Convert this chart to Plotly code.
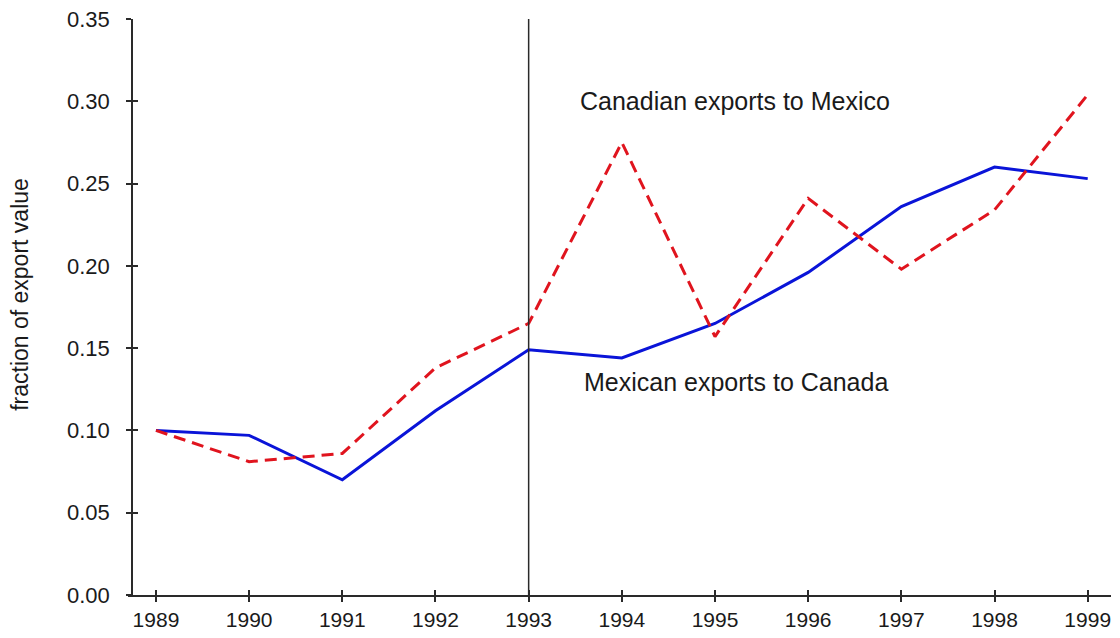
import plotly.graph_objects as go

years = [1989, 1990, 1991, 1992, 1993, 1994, 1995, 1996, 1997, 1998, 1999]
mex_to_can = [0.100, 0.097, 0.070, 0.112, 0.149, 0.144, 0.165, 0.196, 0.236, 0.260, 0.253]
can_to_mex = [0.100, 0.081, 0.086, 0.138, 0.165, 0.275, 0.157, 0.241, 0.198, 0.234, 0.304]
y_ticks = [0.00, 0.05, 0.10, 0.15, 0.20, 0.25, 0.30, 0.35]
y_tick_text = ["0.00", "0.05", "0.10", "0.15", "0.20", "0.25", "0.30", "0.35"]
nafta_year = 1993
label_can = "Canadian exports to Mexico"
label_mex = "Mexican exports to Canada"
y_title = "fraction of export value"

FONT = "Liberation Sans, Arial, Helvetica, sans-serif"
AX = "#2a2a2a"
TXT = "#1a1a1a"
XR = [1988.70, 1999.25]
YR = [0.0, 0.35]

fig = go.Figure()
fig.add_trace(go.Scatter(x=years, y=mex_to_can, mode="lines",
                         line=dict(color="#0a14d8", width=3),
                         xaxis="x", yaxis="y", showlegend=False))
fig.add_trace(go.Scatter(x=years, y=can_to_mex, mode="lines",
                         line=dict(color="#e0141e", width=3, dash="12px,7px"),
                         xaxis="x2", yaxis="y2", showlegend=False))

fig.add_shape(type="line", xref="x", yref="y", x0=nafta_year, x1=nafta_year,
              y0=YR[0], y1=YR[1], line=dict(color=AX, width=1.5))

common_x = dict(range=XR, tickvals=years, showgrid=False, zeroline=False,
                ticklen=5, tickwidth=1.5, tickcolor=AX, automargin=False)
common_y = dict(range=YR, tickvals=y_ticks, showgrid=False, zeroline=False,
                ticklen=5, tickwidth=1.5, tickcolor=AX, automargin=False)

fig.update_layout(
    width=1104, height=622,
    margin=dict(l=120, r=1, t=11, b=35),
    paper_bgcolor="white", plot_bgcolor="white",
    font=dict(family=FONT, size=22, color=TXT),
    xaxis=dict(**common_x, ticks="outside", showline=True, linecolor=AX,
               linewidth=1.5, ticktext=[str(y) for y in years],
               tickfont=dict(size=21, color=TXT), ticklabelstandoff=0,
               ticklabeloverflow="allow", anchor="y"),
    yaxis=dict(**common_y, ticks="outside", showline=True, linecolor=AX,
               linewidth=1.5, ticktext=y_tick_text,
               tickfont=dict(size=22, color=TXT), ticklabeloverflow="allow",
               anchor="free", position=0.004, ticklabelstandoff=12),
    xaxis2=dict(**common_x, ticks="inside", showline=False,
                showticklabels=False, overlaying="x", anchor="y2"),
    yaxis2=dict(**common_y, ticks="inside", showline=False,
                showticklabels=False, overlaying="y", anchor="free",
                position=0.004),
    annotations=[
        dict(x=1995.21, y=0.300, xref="x", yref="y", text=label_can,
             showarrow=False, font=dict(size=25, color=TXT),
             xanchor="center", yanchor="middle"),
        dict(x=1995.22, y=0.1294, xref="x", yref="y", text=label_mex,
             showarrow=False, font=dict(size=25, color=TXT),
             xanchor="center", yanchor="middle"),
        dict(x=-0.11, y=0.5226, xref="paper", yref="paper", text=y_title,
             textangle=-90, showarrow=False,
             font=dict(size=23, color=TXT),
             xanchor="center", yanchor="middle"),
    ],
)

fig.write_html("out.html")
